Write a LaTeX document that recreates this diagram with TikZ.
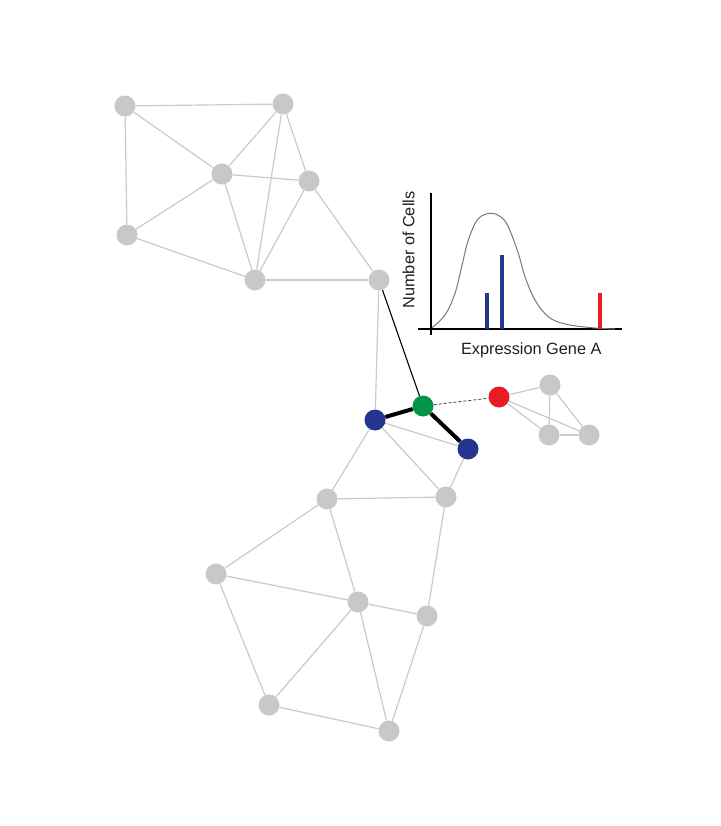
\documentclass[tikz,border=0pt]{standalone}
\usepackage{fontspec}
\setmainfont{Liberation Sans}
\definecolor{nodegray}{RGB}{200,200,200}
\definecolor{edgegray}{RGB}{202,202,202}
\definecolor{nblue}{RGB}{38,54,142}
\definecolor{ngreen}{RGB}{0,150,70}
\definecolor{nred}{RGB}{232,28,36}
\definecolor{curvegray}{RGB}{120,120,120}
\definecolor{txt}{RGB}{35,31,32}
\tikzset{
  vtx/.style={circle,inner sep=0pt,minimum size=21pt,fill=nodegray},
  bvtx/.style={vtx,fill=nblue},
  gvtx/.style={vtx,fill=ngreen},
  rvtx/.style={vtx,fill=nred},
  ge/.style={draw=edgegray,line width=1.2pt},
  be/.style={draw=black,line width=4pt},
  te/.style={draw=black,line width=1.1pt},
  de/.style={draw=black!75,line width=0.8pt,dash pattern=on 3pt off 2pt},
  bar/.style={line width=4pt},
  lbl/.style={font=\fontsize{16.3}{18}\selectfont,text=txt,inner sep=0pt}
}
\begin{document}
\begin{tikzpicture}[x=1pt,y=-1pt]
\useasboundingbox[fill=white] (0,0) rectangle (720,826);
% top cluster
\node[vtx] (a1) at (125,106) {};
\node[vtx] (a2) at (283,104) {};
\node[vtx] (a3) at (222,174) {};
\node[vtx] (a4) at (309,181) {};
\node[vtx] (a5) at (127,235) {};
\node[vtx] (a6) at (255,280) {};
\node[vtx] (a7) at (379,280) {};
% middle
\node[gvtx] (g) at (423,406) {};
\node[bvtx] (b1) at (375,420) {};
\node[bvtx] (b2) at (468,449) {};
\node[rvtx] (r) at (499,397) {};
% small cluster
\node[vtx] (c1) at (550,385) {};
\node[vtx] (c2) at (549,435) {};
\node[vtx] (c3) at (589,435) {};
% bottom cluster
\node[vtx] (d1) at (327,499) {};
\node[vtx] (d2) at (446,497) {};
\node[vtx] (d3) at (216,574) {};
\node[vtx] (d4) at (358,602) {};
\node[vtx] (d5) at (427,616) {};
\node[vtx] (d6) at (269,705) {};
\node[vtx] (d7) at (389,731) {};
% gray edges
\foreach \u/\v in {a1/a2,a1/a3,a1/a5,a2/a3,a2/a6,a2/a4,a3/a4,a3/a5,a3/a6,a4/a6,a4/a7,a5/a6,a6/a7,
  a7/b1,b1/b2,b1/d1,b1/d2,b2/d2,d1/d2,d1/d3,d1/d4,d2/d5,d3/d4,d3/d6,d4/d5,d4/d6,d4/d7,d5/d7,d6/d7,
  r/c1,r/c2,r/c3,c1/c2,c1/c3,c2/c3}
  \path[ge] (\u) -- (\v);
% highlighted edges
\path[te] (a7) -- (g);
\path[be] (b1) -- (g);
\path[be] (g) -- (b2);
\path[de] (g) -- (r);
% chart
\draw[black,line width=1.1pt] (431,193) -- (431,335);
\draw[black,line width=1.1pt] (418,329) -- (622,329);
\draw[curvegray,line width=1pt] plot[smooth,tension=0.6] coordinates {
  (432,327.7) (445,315) (455,293.3) (461.7,266.7) (468.3,240) (478,219) (490.7,213.3)
  (501,217) (508.3,226.7) (518.3,253.3) (525,276.7) (535,300) (548.3,316.7) (565,324)
  (591.7,327.7) (615,329)};
\draw[nblue,bar] (487,329) -- (487,292.7);
\draw[nblue,bar] (502,329) -- (502,255);
\draw[nred,bar] (600,329) -- (600,292.7);
\node[lbl,anchor=base] (xl) at (531.3,354) {Expression Gene A};
\node[lbl,anchor=base,rotate=90] (yl) at (414.3,250) {Number of Cells};
\end{tikzpicture}
\end{document}
